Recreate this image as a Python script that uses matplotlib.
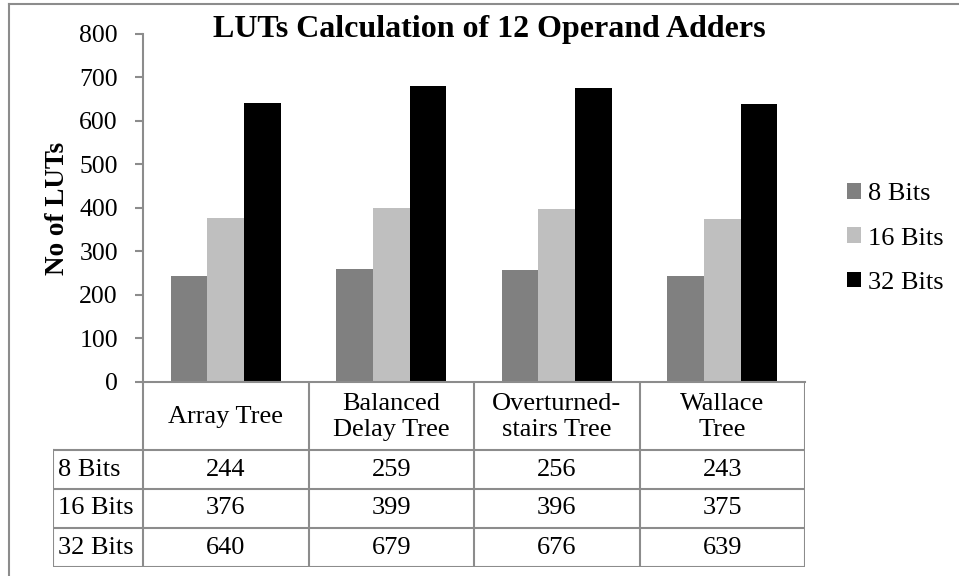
import matplotlib
matplotlib.use("Agg")
import matplotlib.pyplot as plt
from matplotlib.patches import Patch
from matplotlib.lines import Line2D

categories = ["Array Tree", "Balanced\nDelay Tree", "Overturned-\nstairs Tree", "Wallace\nTree"]
series_names = ["8 Bits", "16 Bits", "32 Bits"]
bits8 = [244, 259, 256, 243]
bits16 = [376, 399, 396, 375]
bits32 = [640, 679, 676, 639]
yticks = [0, 100, 200, 300, 400, 500, 600, 700, 800]

series = [bits8, bits16, bits32]
colors = ["#808080", "#bfbfbf", "#000000"]
gray = "#8c8c8c"
FONT = "Liberation Serif"
FS = 19

W, H = 959, 576
plt.rcParams['font.family'] = [FONT, 'DejaVu Serif']
fig = plt.figure(figsize=(W / 100, H / 100), dpi=100)

# outer border (top and left)
fig.add_artist(Line2D([8.5 / W, 8.5 / W], [0, 1 - 4 / H], color=gray, lw=1.5, transform=fig.transFigure))
fig.add_artist(Line2D([8.5 / W, 1], [1 - 4 / H, 1 - 4 / H], color=gray, lw=1.5, transform=fig.transFigure))

ax_l, ax_r, ax_t, ax_b = 143, 805, 33.5, 382
ax = fig.add_axes([ax_l / W, 1 - ax_b / H, (ax_r - ax_l) / W, (ax_b - ax_t) / H])
bw = 0.222
x = list(range(len(categories)))
for k, (vals, c, name) in enumerate(zip(series, colors, series_names)):
    ax.bar([xi + (k - 1) * bw for xi in x], vals, width=bw, color=c, label=name, zorder=2)
ax.set_xlim(-0.5, len(categories) - 0.5)
ax.set_ylim(0, 800)
ax.set_yticks(yticks)
ax.set_yticklabels([str(v) for v in yticks], fontsize=FS - 0.5, fontfamily=FONT)
ax.tick_params(axis='y', direction='out', length=6, color=gray, width=1.5, pad=12)
ax.set_xticks([])
for s in ['top', 'right']:
    ax.spines[s].set_visible(False)
for s in ['left', 'bottom']:
    ax.spines[s].set_color(gray)
    ax.spines[s].set_linewidth(1.5)
ax.patch.set_alpha(0)

fig.text(489 / W, 1 - 29 / H, "LUTs Calculation of 12 Operand Adders", ha='center', va='center',
         fontsize=23, fontweight='bold', fontfamily=FONT)
fig.text(58 / W, 1 - 208 / H, "No of LUTs", ha='center', va='center', rotation=90,
         fontsize=19.5, fontweight='bold', fontfamily=FONT)

# legend
handles = [Patch(facecolor=c, edgecolor='none') for c in colors]
fig.legend(handles, series_names, loc='center left', bbox_to_anchor=(847 / W, 1 - 238.5 / H),
           frameon=False, prop={'family': FONT, 'size': FS}, handlelength=0.53, handleheight=0.53,
           handletextpad=0.25, labelspacing=0.84, borderaxespad=0, borderpad=0)

# data table
tab_l, tab_t, tab_b = 53, 382, 567
row_edges = [382, 450, 489, 528, 567]
cat_w = (ax_r - ax_l) / len(categories)
x0 = -0.5 - (ax_l - tab_l) / cat_w
tax = fig.add_axes([tab_l / W, 1 - tab_b / H, (ax_r - tab_l) / W, (tab_b - tab_t) / H])
tax.set_xlim(x0, len(categories) - 0.5)
tax.set_ylim(tab_b, tab_t)
tax.axis('off')
lk = dict(color=gray, lw=1.5, solid_capstyle='projecting')
for y in row_edges[1:]:
    tax.plot([x0, len(categories) - 0.5], [y, y], **lk)
tax.plot([x0, x0], [row_edges[1], row_edges[-1]], **lk)
for i in range(len(categories) + 1):
    xx = -0.5 + i
    tax.plot([xx, xx], [row_edges[0], row_edges[-1]], **lk)
for i, cat in enumerate(categories):
    tax.text(i, (row_edges[0] + row_edges[1]) / 2 + 1, cat, ha='center', va='center',
             fontsize=FS, fontfamily=FONT, linespacing=1.22)
for r, (name, vals) in enumerate(zip(series_names, series)):
    yc = (row_edges[r + 1] + row_edges[r + 2]) / 2
    tax.text(x0 + 5 / cat_w, yc, name, ha='left', va='center', fontsize=FS, fontfamily=FONT)
    for i, v in enumerate(vals):
        tax.text(i, yc, str(v), ha='center', va='center', fontsize=FS, fontfamily=FONT)

fig.savefig("out.png", dpi=100, facecolor='white')
